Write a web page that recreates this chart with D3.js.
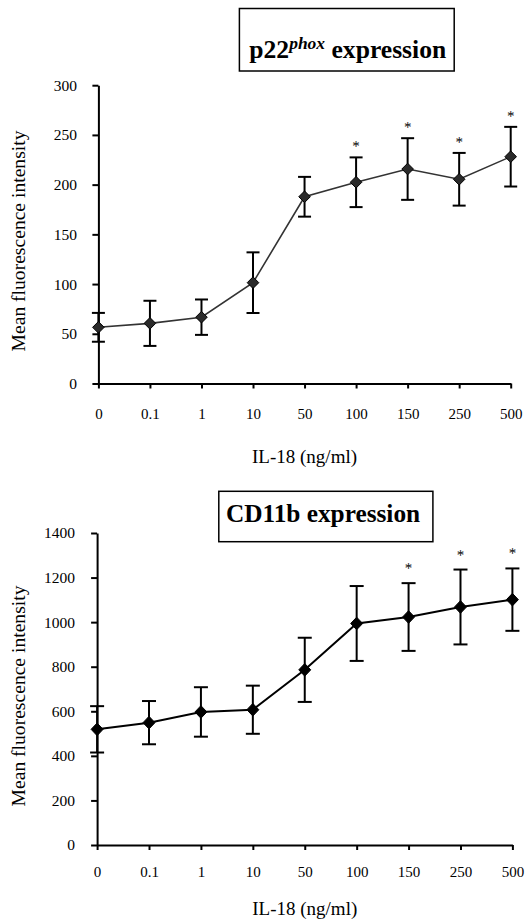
<!DOCTYPE html>
<html>
<head>
<meta charset="utf-8">
<script src="https://cdn.jsdelivr.net/npm/d3@7"></script>
<style>
  html, body { margin: 0; padding: 0; background: #fff; }
  svg { display: block; }
  text { font-family: "Liberation Serif", "DejaVu Serif", serif; fill: #000; font-variant-emoji: text; }
  text.star { -webkit-font-smoothing: antialiased; text-rendering: geometricPrecision; }
</style>
</head>
<body>
<svg id="chart" width="530" height="921"></svg>
<script>
// ---- data ----
const categories = ["0", "0.1", "1", "10", "50", "100", "150", "250", "500"];

const p22Mean = [56.5, 60.5, 66.7, 101.4, 187.8, 202.4, 215.7, 205.4, 228.1];
const p22Err  = [14.5, 22.7, 17.8, 30.5, 20, 25, 31, 26.5, 30];
const p22Sig  = [false, false, false, false, false, true, true, true, true];
const p22Ticks = [0, 50, 100, 150, 200, 250, 300];

const cd11bMean = [519, 549, 597, 607, 786, 994, 1023, 1068, 1101];
const cd11bErr  = [104, 97, 111, 108, 144, 168, 152, 168, 140];
const cd11bSig  = [false, false, false, false, false, false, true, true, true];
const cd11bTicks = [0, 200, 400, 600, 800, 1000, 1200, 1400];

const xTitle = "IL-18 (ng/ml)";
const yTitle = "Mean fluorescence intensity";
const starChar = "*\uFE0E";

const svg = d3.select("#chart");

function panel(cfg) {
  const g = svg.append("g");
  const x = d3.scalePoint().domain(categories).range(cfg.xRange).padding(0);
  const y = d3.scaleLinear().domain([0, cfg.yMax]).range(cfg.yRange);
  const y0 = y(0);

  // y axis
  const ya = g.append("g").attr("transform", `translate(${cfg.xRange[0]},0)`)
    .call(d3.axisLeft(y).tickValues(cfg.ticks).tickFormat(d3.format("d"))
      .tickSize(6).tickPadding(cfg.yPad).tickSizeOuter(0));
  ya.select(".domain").attr("stroke", "#000").attr("stroke-width", 2);
  ya.selectAll(".tick line").attr("stroke", "#000").attr("stroke-width", 2);
  ya.selectAll(".tick text").attr("font-size", 15.5);

  // x axis
  const xa = g.append("g").attr("transform", `translate(0,${y0})`)
    .call(d3.axisBottom(x).tickSize(5).tickSizeOuter(0));
  xa.select(".domain").attr("stroke", "#000").attr("stroke-width", 2);
  xa.selectAll(".tick line").attr("stroke", "#000").attr("stroke-width", 2);
  xa.selectAll(".tick text").attr("font-size", 15)
    .attr("y", cfg.xLabelDy).attr("dy", null);

  // x title
  g.append("text").attr("x", (cfg.xRange[0] + cfg.xRange[1]) / 2).attr("y", y0 + cfg.xTitleDy)
    .attr("text-anchor", "middle").attr("font-size", 19).text(xTitle);
  // y title
  g.append("text").attr("transform", `translate(25,${cfg.yTitleCy}) rotate(-90)`)
    .attr("text-anchor", "middle").attr("font-size", 19.6).text(yTitle);

  const data = categories.map((c, i) => ({ c, m: cfg.mean[i], e: cfg.err[i], s: cfg.sig[i] }));

  // error bars
  const eb = g.append("g").attr("stroke", "#000").attr("stroke-width", 2).attr("fill", "none");
  data.forEach(d => {
    const cx = x(d.c);
    eb.append("line").attr("x1", cx).attr("x2", cx).attr("y1", y(d.m - d.e)).attr("y2", y(d.m + d.e));
    [d.m - d.e, d.m + d.e].forEach(v => {
      eb.append("line").attr("x1", cx - cfg.cap).attr("x2", cx + cfg.cap).attr("y1", y(v)).attr("y2", y(v));
    });
  });

  // line
  g.append("path").datum(data)
    .attr("fill", "none").attr("stroke", cfg.lineColor).attr("stroke-width", cfg.lineWidth)
    .attr("d", d3.line().x(d => x(d.c)).y(d => y(d.m)));

  // markers
  const hw = cfg.dw, hh = cfg.dh;
  g.selectAll(".mk").data(data).enter().append("path")
    .attr("d", d => {
      const cx = x(d.c), cy = y(d.m);
      return `M${cx},${cy - hh}L${cx + hw},${cy}L${cx},${cy + hh}L${cx - hw},${cy}Z`;
    })
    .attr("fill", cfg.markerFill).attr("stroke", "#000").attr("stroke-width", 1);

  // significance stars
  g.selectAll(".star").data(data.filter(d => d.s)).enter().append("text")
    .attr("class", "star")
    .attr("transform", d => `translate(${x(d.c)},${y(d.m + d.e) - cfg.starOff + 7}) rotate(0.01)`)
    .attr("text-anchor", "middle").attr("font-size", 15).text(starChar);

  // title box
  g.append("rect").attr("x", cfg.box[0]).attr("y", cfg.box[1])
    .attr("width", cfg.box[2]).attr("height", cfg.box[3])
    .attr("fill", "none").attr("stroke", "#000").attr("stroke-width", 1.5);
  const t = g.append("text").attr("x", cfg.titleX).attr("y", cfg.titleY)
    .attr("font-size", cfg.titleSize).attr("font-weight", "bold");
  cfg.title(t);
}

panel({
  xRange: [98.4, 510.7], yRange: [383.5, 85.2], yMax: 300, ticks: p22Ticks, yPad: 15.4,
  mean: p22Mean, err: p22Err, sig: p22Sig,
  lineColor: "#333", lineWidth: 1.6, markerFill: "#2a2a2a", dw: 5.8, dh: 5.8, cap: 6.5,
  xLabelDy: 35, xTitleDy: 79, yTitleCy: 241, starOff: 13,
  box: [239.4, 8.5, 214.8, 62.5], titleX: 249.3, titleY: 58, titleSize: 25.6,
  title: t => {
    t.append("tspan").text("p22");
    t.append("tspan").attr("font-style", "italic").attr("font-size", 17.5).attr("dy", -9).text("phox");
    t.append("tspan").attr("dy", 9).text(" expression");
  }
});

panel({
  xRange: [97.1, 512.4], yRange: [845, 533], yMax: 1400, ticks: cd11bTicks, yPad: 16,
  mean: cd11bMean, err: cd11bErr, sig: cd11bSig,
  lineColor: "#000", lineWidth: 2, markerFill: "#000", dw: 6, dh: 6.3, cap: 7,
  xLabelDy: 31.5, xTitleDy: 70, yTitleCy: 696, starOff: 17,
  box: [218.8, 491.3, 214.1, 50.4], titleX: 225.9, titleY: 522.4, titleSize: 25.3,
  title: t => { t.text("CD11b expression"); }
});
</script>
</body>
</html>
